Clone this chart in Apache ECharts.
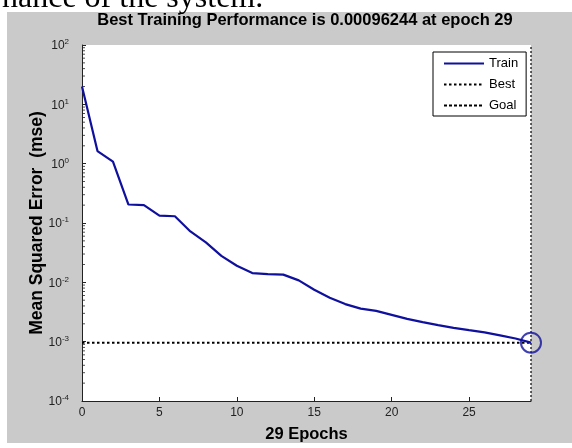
<!DOCTYPE html>
<html>
<head>
<meta charset="utf-8">
<style>
  html, body { margin: 0; padding: 0; background: #ffffff; }
  #chart { width: 572px; height: 448px; }
</style>
<script src="https://cdn.jsdelivr.net/npm/echarts@6/dist/echarts.min.js"></script>
</head>
<body>
<div id="chart"></div>
<script>
// ---- data ----
const epochs = [0,1,2,3,4,5,6,7,8,9,10,11,12,13,14,15,16,17,18,19,20,21,22,23,24,25,26,27,28,29];
const trainMse = [20, 1.63, 1.08, 0.205, 0.2, 0.133, 0.13, 0.072, 0.047, 0.028,
                  0.019, 0.0143, 0.0138, 0.0135, 0.0108, 0.0075, 0.0055, 0.0043, 0.0036, 0.0033,
                  0.00283, 0.00242, 0.00213, 0.0019, 0.00171, 0.00156, 0.00143, 0.00128, 0.00113, 0.00096244];
const bestEpoch = 29;
const bestPerf = 0.00096244;
const yMin = 1e-4, yMax = 1e2;
const yTickValues = [1e-4, 1e-3, 1e-2, 1e-1, 1e0, 1e1, 1e2];
const xTickValues = [0, 5, 10, 15, 20, 25];
const minorMultipliers = [2, 3, 4, 5, 6, 7, 8, 9];
const legendNames = ['Train', 'Best', 'Goal'];
const titleText = 'Best Training Performance is 0.00096244 at epoch 29';
const xName = '29 Epochs';
const yName = 'Mean Squared Error  (mse)';

// ---- derived ----
const trainData = epochs.map((e, i) => [e, trainMse[i]]);
const minorTicks = [];
for (let d = 0; d < yTickValues.length - 1; d++) {
  minorMultipliers.forEach(m => minorTicks.push([0, m * yTickValues[d]]));
}

const FONT = "'Liberation Sans', Arial, sans-serif";
const BLUE = '#10109e';
const chart = echarts.init(document.getElementById('chart'), null, { renderer: 'canvas' });

chart.setOption({
  animation: false,
  backgroundColor: '#ffffff',
  graphic: [
    { type: 'rect', z: -10, shape: { x: 7, y: 12, width: 565, height: 431 }, style: { fill: '#cacaca' } },
    { type: 'text', z: 10, x: 2, y: -1,
      style: { text: 'nance of the system.', fontFamily: "'Liberation Serif', 'Times New Roman', serif",
               fontSize: 32, fill: '#000', verticalAlign: 'middle', align: 'left' } }
  ],
  title: {
    text: titleText, left: 305, top: 12, padding: 0, textAlign: 'center',
    textStyle: { fontFamily: FONT, fontSize: 16.5, fontWeight: 'bold', color: '#000' }
  },
  legend: {
    data: legendNames, orient: 'vertical', left: 433, top: 52,
    itemWidth: 40, itemHeight: 12, itemGap: 8,
    padding: [5, 8, 4, 10],
    itemStyle: { opacity: 0 },
    backgroundColor: '#ffffff', borderColor: '#000', borderWidth: 1, borderRadius: 0,
    textStyle: { fontFamily: FONT, fontSize: 13, color: '#000' },
    selectedMode: false
  },
  grid: { left: 82, top: 45, width: 449, height: 358, show: true, backgroundColor: '#ffffff', borderWidth: 0 },
  xAxis: {
    type: 'value', min: 0, max: 29,
    name: xName, nameLocation: 'middle', nameGap: 25, nameMoveOverlap: false,
    nameTextStyle: { fontFamily: FONT, fontSize: 16.5, fontWeight: 'bold', color: '#000' },
    axisLine: { lineStyle: { color: '#222', width: 1 } },
    axisTick: { inside: true, length: 4, lineStyle: { color: '#222' }, customValues: xTickValues },
    axisLabel: { customValues: xTickValues, margin: 6, fontFamily: FONT, fontSize: 12, color: '#222' },
    splitLine: { show: false }
  },
  yAxis: {
    type: 'log', logBase: 10, min: yMin, max: yMax,
    name: yName, nameLocation: 'middle', nameGap: 36, nameMoveOverlap: false,
    nameTextStyle: { fontFamily: FONT, fontSize: 17.5, fontWeight: 'bold', color: '#000' },
    axisLine: { show: true, lineStyle: { color: '#222', width: 1 } },
    axisTick: { show: true, inside: true, length: 4, lineStyle: { color: '#222' }, customValues: yTickValues },
    axisLabel: {
      customValues: yTickValues, margin: 13, color: '#222',
      formatter: v => '{b|10}{s|' + Math.round(Math.log10(v)) + '}',
      rich: {
        b: { fontFamily: FONT, fontSize: 12, color: '#222', verticalAlign: 'bottom', lineHeight: 14 },
        s: { fontFamily: FONT, fontSize: 8, color: '#222', verticalAlign: 'top', lineHeight: 8, padding: [0, 0, 11, 0] }
      }
    },
    splitLine: { show: false }
  },
  series: [
    { name: 'Train', type: 'line', data: trainData, symbol: 'none', clip: false,
      lineStyle: { color: BLUE, width: 2.2 }, itemStyle: { color: BLUE }, z: 5 },
    { name: 'Best', type: 'line', data: [[0, bestPerf], [bestEpoch, bestPerf]], symbol: 'none', clip: false,
      lineStyle: { color: '#000', width: 2, type: [2.5, 2.5] }, itemStyle: { color: '#000' }, z: 3 },
    { name: 'Best', type: 'line', data: [[bestEpoch, yMin], [bestEpoch, yMax]], symbol: 'none', clip: false,
      lineStyle: { color: '#000', width: 1.2, type: [2, 2] }, itemStyle: { color: '#000' }, z: 3 },
    { name: 'Goal', type: 'line', data: [], symbol: 'none',
      lineStyle: { color: '#000', width: 1, type: [3, 2] }, itemStyle: { color: '#000' } },
    { name: 'bestMarker', type: 'scatter', data: [[bestEpoch, bestPerf]], symbol: 'circle', symbolSize: 20,
      clip: false, silent: true, z: 6,
      itemStyle: { color: 'rgba(0,0,0,0)', borderColor: BLUE, borderWidth: 2 } },
    { name: 'minorTicks', type: 'scatter', data: minorTicks, symbol: 'rect', symbolSize: [3, 1],
      symbolOffset: [1.5, 0], clip: false, silent: true, z: 4,
      itemStyle: { color: '#222' } }
  ]
});
</script>
</body>
</html>
